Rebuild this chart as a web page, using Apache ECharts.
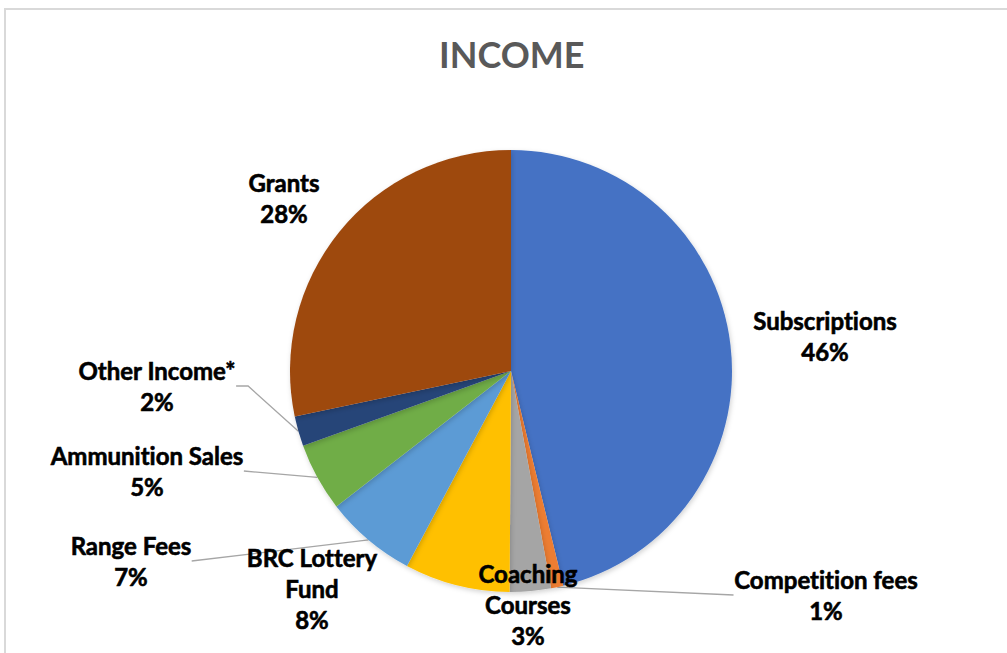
<!DOCTYPE html>
<html>
<head>
	<meta charset="utf-8">
	<title>INCOME</title>
	<script src="https://cdn.jsdelivr.net/npm/echarts@6/dist/echarts.min.js"></script>
	<style>
		html, body { margin: 0; padding: 0; background: #fff; overflow: hidden; }
		#main { width: 1007px; height: 653px; }
		#main text { font-variant-ligatures: none; }
	</style>
</head>
<body>
	<div id="main"></div>
	<script>
		// 数据
		var categories = ['Subscriptions', 'Competition fees', 'Coaching\nCourses', 'BRC Lottery\nFund', 'Range Fees', 'Ammunition Sales', 'Other Income*', 'Grants'];
		var values = [46.2, 0.9, 3.0, 7.7, 6.7, 5.0, 2.2, 28.3];
		var colors = ['#4472C4', '#ED7D31', '#A5A5A5', '#FFC000', '#5B9BD5', '#70AD47', '#264478', '#9E480E'];
		// 标签中心位置 (x, y)
		var labelPos = [[825, 336], [826, 595], [528, 604], [312, 588], [131, 561], [147, 471], [157, 386], [284, 198]];
		var showLine = [false, true, false, false, true, true, true, false];
		var lineLen2 = [0, 0, 0, 0, 0, 0, 12, 0];

		var chart = echarts.init(document.getElementById('main'), null, { renderer: 'svg' });

		var pieData = [];
		for (var i = 0; i < categories.length; i++) {
			pieData.push({
				name: categories[i],
				value: values[i],
				itemStyle: { color: colors[i] },
				labelLine: { show: showLine[i], length2: lineLen2[i] }
			});
		}

		chart.setOption({
			animation: false,
			title: {
				text: 'INCOME',
				left: 434,
				top: 31,
				textStyle: { fontFamily: 'Lato', fontWeight: 'bold', fontSize: 36, color: '#595959' }
			},
			graphic: [{
				type: 'rect',
				shape: { x: 5, y: 9, width: 1100, height: 700 },
				style: { fill: 'none', stroke: '#d9d9d9', lineWidth: 2 },
				silent: true
			}],
			series: [{
				type: 'pie',
				center: [511, 371],
				radius: 221,
				startAngle: 90,
				clockwise: true,
				percentPrecision: 0,
				avoidLabelOverlap: false,
				itemStyle: {
					borderWidth: 0,
					shadowBlur: 5,
					shadowColor: 'rgba(0,0,0,0.18)',
					shadowOffsetX: 1,
					shadowOffsetY: 2
				},
				label: {
					show: true,
					position: 'outside',
					formatter: '{b}\n{d}%',
					fontFamily: 'Lato',
					fontWeight: 'bold',
					fontSize: 24,
					lineHeight: 31,
					color: '#000',
					textBorderColor: '#000',
					textBorderWidth: 0.6
				},
				labelLine: {
					lineStyle: { color: '#a6a6a6', width: 1.3 }
				},
				labelLayout: function (params) {
					var p = labelPos[params.dataIndex];
					return { x: p[0], y: p[1], align: 'center', verticalAlign: 'middle' };
				},
				emphasis: { disabled: true },
				data: pieData
			}]
		});
	</script>
</body>
</html>
